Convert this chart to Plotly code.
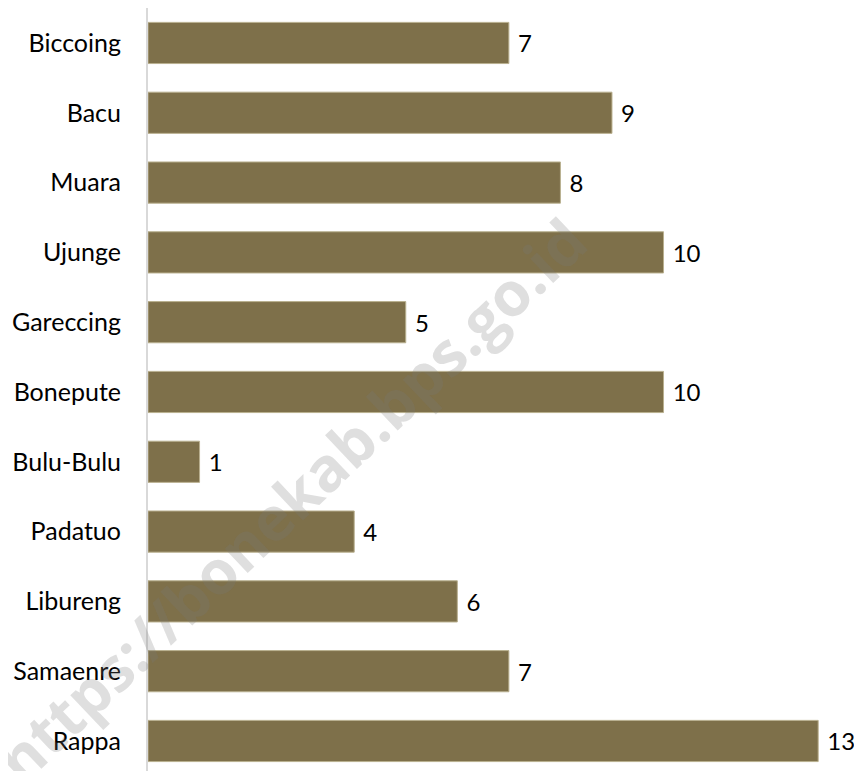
import plotly.graph_objects as go

# data
villages = ["Biccoing", "Bacu", "Muara", "Ujunge", "Gareccing", "Bonepute",
            "Bulu-Bulu", "Padatuo", "Libureng", "Samaenre", "Rappa"]
counts = [7, 9, 8, 10, 5, 10, 1, 4, 6, 7, 13]
watermark = "https://bonekab.bps.go.id"

bar_color = "#7E704A"
font_family = "Lato, 'Open Sans', sans-serif"

fig = go.Figure()

fig.add_trace(
    go.Bar(
        x=counts,
        y=villages,
        orientation="h",
        marker=dict(color=bar_color, line=dict(color="#B9B08F", width=1)),
        text=counts,
        texttemplate=" %{x}",
        textposition="outside",
        textfont=dict(family=font_family, size=24, color="#000000"),
        cliponaxis=False,
        hoverinfo="skip",
    )
)

# watermark, drawn over the bars
fig.add_annotation(
    text=watermark,
    xref="paper", yref="paper",
    x=0.2, y=0.356,
    xanchor="center", yanchor="middle",
    showarrow=False,
    textangle=-43.5,
    font=dict(family="'Open Sans', sans-serif", size=61, color="rgba(120,120,120,0.24)",
              weight="bold"),
)

# page body has an 8px margin, so the plot box is shifted by that much
fig.update_layout(
    width=862,
    height=771,
    margin=dict(l=140, r=8, t=0, b=8, autoexpand=False),
    paper_bgcolor="white",
    plot_bgcolor="white",
    bargap=0.41,
    showlegend=False,
)

fig.update_xaxes(
    range=[0, 13.85],
    showgrid=False,
    zeroline=False,
    showticklabels=False,
    showline=False,
    automargin=False,
)

fig.update_yaxes(
    type="category",
    categoryorder="array",
    categoryarray=villages,
    range=[10.43, -0.501],
    showgrid=False,
    zeroline=False,
    showline=True,
    linecolor="#D9D9D9",
    linewidth=2,
    ticks="",
    ticklabelstandoff=20,
    automargin=False,
    tickfont=dict(family=font_family, size=25, color="#000000"),
)

fig.write_html("out.html")
